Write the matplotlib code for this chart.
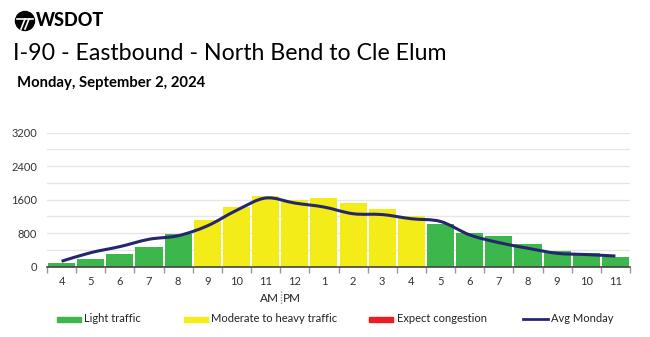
import numpy as np
import matplotlib.pyplot as plt
from matplotlib.path import Path
from matplotlib.patches import PathPatch, Ellipse

plt.rcParams['font.family'] = ['Lato', 'DejaVu Sans']

hours = ['4', '5', '6', '7', '8', '9', '10', '11', '12', '1',
         '2', '3', '4', '5', '6', '7', '8', '9', '10', '11']
volume = [100, 180, 300, 480, 785, 1120, 1415, 1690, 1600, 1630,
          1530, 1385, 1215, 1030, 810, 730, 540, 375, 320, 240]
level = ['light'] * 5 + ['moderate'] * 8 + ['light'] * 7
avg_monday = [130, 335, 480, 655, 740, 975, 1345, 1640, 1520, 1425,
              1265, 1245, 1145, 1080, 760, 575, 440, 320, 290, 255]

colors = {'light': '#3db64b', 'moderate': '#f3ec19', 'heavy': '#ed1c24'}
navy = '#25276e'

W, H = 650, 337
fig = plt.figure(figsize=(6.5, 3.37), dpi=100)
ax = fig.add_axes([47 / W, 1 - 266.7 / H, (630 - 47) / W, 134 / H])

x = np.arange(len(hours))
ax.bar(x, volume, width=0.93, color=[colors[l] for l in level], zorder=2)

# smooth avg line (catmull-rom -> bezier)
pts = np.column_stack([x, avg_monday]).astype(float)
verts = [pts[0]]
codes = [Path.MOVETO]
for i in range(len(pts) - 1):
    p0 = pts[max(i - 1, 0)]
    p1 = pts[i]
    p2 = pts[i + 1]
    p3 = pts[min(i + 2, len(pts) - 1)]
    c1 = p1 + (p2 - p0) / 6
    c2 = p2 - (p3 - p1) / 6
    verts += [c1, c2, p2]
    codes += [Path.CURVE4] * 3
ax.add_patch(PathPatch(Path(verts, codes), fill=False, edgecolor=navy, lw=2.2, zorder=3))

ax.set_xlim(-0.5, len(hours) - 0.5)
ax.set_ylim(0, 3200)
ax.set_yticks([0, 800, 1600, 2400, 3200])
ax.set_yticks(np.arange(400, 3200, 800), minor=True)
ax.grid(axis='y', which='both', color='#e6e6e6', lw=1, zorder=0)
ax.tick_params(axis='y', which='both', length=0, labelsize=8, labelcolor='#333333', pad=7)

ax.set_xticks(np.arange(-0.5, len(hours)), minor=True)
ax.set_xticks(x)
ax.set_xticklabels(hours)
ax.tick_params(axis='x', which='major', length=0, labelsize=8, labelcolor='#333333', pad=7)
ax.tick_params(axis='x', which='minor', length=4, color='#999999', width=1)

for s in ['top', 'right', 'left']:
    ax.spines[s].set_visible(False)
ax.spines['bottom'].set_color('#444444')
ax.spines['bottom'].set_linewidth(1.2)

# AM | PM
fig.text(279 / W, 1 - 298 / H, 'AM', ha='right', va='center', fontsize=8.5, color='#222222')
fig.text(283 / W, 1 - 298 / H, 'PM', ha='left', va='center', fontsize=8.5, color='#222222')
fig.add_artist(plt.Line2D([281 / W, 281 / W], [1 - 291 / H, 1 - 305 / H],
                          color='#999999', lw=1, ls=(0, (1, 1))))

# legend
ly = 1 - 319 / H
leg = [('Light traffic', colors['light'], 57, 84, 'patch'),
       ('Moderate to heavy traffic', colors['moderate'], 184, 211, 'patch'),
       ('Expect congestion', colors['heavy'], 369, 397, 'patch'),
       ('Avg Monday', navy, 523, 551, 'line')]
for label, c, x0, tx, kind in leg:
    if kind == 'patch':
        fig.add_artist(plt.Rectangle((x0 / W, ly - 2.5 / H), 24 / W, 5 / H, color=c))
    else:
        fig.add_artist(plt.Line2D([x0 / W, (x0 + 25) / W], [ly, ly], color=c, lw=2))
    fig.text(tx / W, ly, label, ha='left', va='center', fontsize=8, color='#222222')

# header logo
cx, cy = 25, 21
fig.add_artist(Ellipse((cx / W, 1 - cy / H), 19 / W, 19 / H, color='black'))
fig.add_artist(plt.Line2D([17 / W, 33 / W], [1 - 19 / H, 1 - 19 / H], color='white', lw=1.2))
fig.add_artist(plt.Line2D([25 / W, 21 / W], [1 - 19 / H, 1 - 29 / H], color='white', lw=1.2))
fig.add_artist(plt.Line2D([29 / W, 25 / W], [1 - 19 / H, 1 - 29 / H], color='white', lw=1.2))
fig.text(36 / W, 1 - 21 / H, 'WSDOT', ha='left', va='center', fontsize=13,
         fontweight='black', color='black')

fig.text(13 / W, 1 - 54 / H, 'I-90 - Eastbound - North Bend to Cle Elum', ha='left',
         va='center', fontsize=16.7, color='black')
fig.text(17 / W, 1 - 83 / H, 'Monday, September 2, 2024', ha='left', va='center',
         fontsize=10.7, fontweight='bold', color='black')

fig.savefig('out.png', dpi=100)
